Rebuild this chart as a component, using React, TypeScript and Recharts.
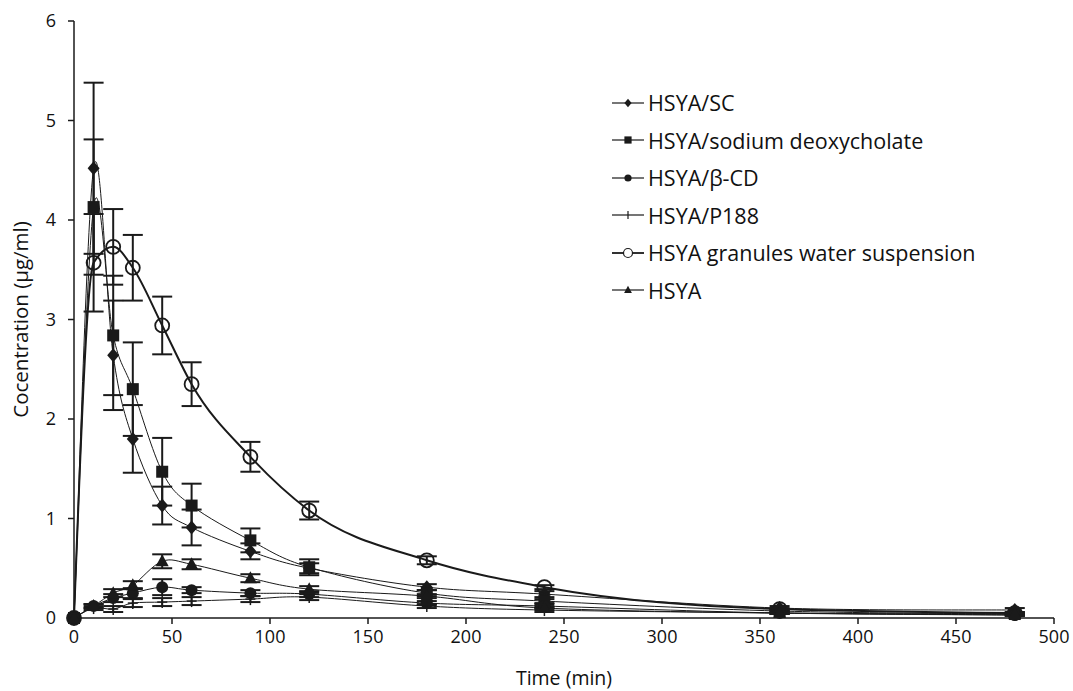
import React from 'react';
import { LineChart, Line, XAxis, YAxis, ErrorBar, Legend } from 'recharts';

const times = [0, 10, 20, 30, 45, 60, 90, 120, 180, 240, 360, 480];
const sc = [0, 4.52, 2.64, 1.8, 1.13, 0.91, 0.67, 0.5, 0.31, 0.24, 0.1, 0.08];
const scErr = [0, 0.86, 0.55, 0.34, 0.19, 0.18, 0.08, 0.05, 0.03, 0.03, 0.02, 0.02];
const sdc = [0, 4.13, 2.84, 2.3, 1.47, 1.13, 0.78, 0.51, 0.25, 0.17, 0.07, 0.04];
const sdcErr = [0, 0.68, 0.6, 0.47, 0.34, 0.22, 0.12, 0.08, 0.03, 0.02, 0.01, 0.01];
const bcd = [0, 0.12, 0.2, 0.25, 0.31, 0.28, 0.25, 0.24, 0.15, 0.12, 0.05, 0.03];
const bcdErr = [0, 0.02, 0.04, 0.05, 0.08, 0.03, 0.03, 0.03, 0.02, 0.02, 0.01, 0.01];
const p188 = [0, 0.1, 0.09, 0.15, 0.16, 0.17, 0.19, 0.21, 0.12, 0.08, 0.05, 0.03];
const p188Err = [0, 0.02, 0.03, 0.04, 0.04, 0.04, 0.03, 0.03, 0.02, 0.02, 0.01, 0.01];
const gran = [0, 3.57, 3.73, 3.52, 2.94, 2.35, 1.62, 1.08, 0.58, 0.31, 0.09, 0.05];
const granErr = [0, 0.49, 0.38, 0.33, 0.29, 0.22, 0.15, 0.09, 0.04, 0.02, 0.01, 0.01];
const hsya = [0, 0.12, 0.25, 0.33, 0.57, 0.54, 0.4, 0.29, 0.22, 0.1, 0.05, 0.04];
const hsyaErr = [0, 0.02, 0.04, 0.04, 0.07, 0.05, 0.04, 0.03, 0.02, 0.02, 0.01, 0.01];

const xTicks = [0, 50, 100, 150, 200, 250, 300, 350, 400, 450, 500];
const yTicks = [0, 1, 2, 3, 4, 5, 6];

const seriesNames = [
  'HSYA/SC',
  'HSYA/sodium deoxycholate',
  'HSYA/β-CD',
  'HSYA/P188',
  'HSYA granules water suspension',
  'HSYA',
];

const data = times.map((t, i) => ({
  t,
  sc: sc[i], scErr: scErr[i],
  sdc: sdc[i], sdcErr: sdcErr[i],
  bcd: bcd[i], bcdErr: bcdErr[i],
  p188: p188[i], p188Err: p188Err[i],
  gran: gran[i], granErr: granErr[i],
  hsya: hsya[i], hsyaErr: hsyaErr[i],
}));

// Excel-like smoothed line (Catmull-Rom style bezier)
const excelCurve = (context: any) => {
  let pts: number[][] = [];
  return {
    areaStart() {},
    areaEnd() {},
    lineStart() { pts = []; },
    point(x: number, y: number) { pts.push([+x, +y]); },
    lineEnd() {
      const n = pts.length;
      if (!n) return;
      context.moveTo(pts[0][0], pts[0][1]);
      for (let i = 0; i < n - 1; i++) {
        const p0 = pts[i - 1] || pts[i];
        const p1 = pts[i];
        const p2 = pts[i + 1];
        const p3 = pts[i + 2] || pts[i + 1];
        const c1x = p1[0] + (p2[0] - p0[0]) / 6;
        const c1y = p1[1] + (p2[1] - p0[1]) / 6;
        const c2x = p2[0] - (p3[0] - p1[0]) / 6;
        const c2y = p2[1] - (p3[1] - p1[1]) / 6;
        context.bezierCurveTo(c1x, c1y, c2x, c2y, p2[0], p2[1]);
      }
    },
  };
};

const INK = '#1a1a1a';

const markerShape = (kind: string, cx: number, cy: number, key?: any) => {
  switch (kind) {
    case 'diamond':
      return <path key={key} d={`M${cx},${cy - 7}L${cx + 6},${cy}L${cx},${cy + 7}L${cx - 6},${cy}Z`} fill={INK} />;
    case 'square':
      return <rect key={key} x={cx - 6} y={cy - 6} width={12} height={12} fill={INK} />;
    case 'circle':
      return <circle key={key} cx={cx} cy={cy} r={6} fill={INK} />;
    case 'plus':
      return (
        <g key={key}>
          <line x1={cx - 5} x2={cx + 5} y1={cy} y2={cy} stroke={INK} strokeWidth={1.5} />
          <line x1={cx} x2={cx} y1={cy - 6} y2={cy + 6} stroke={INK} strokeWidth={1.5} />
        </g>
      );
    case 'open':
      return <circle key={key} cx={cx} cy={cy} r={7} fill="none" stroke={INK} strokeWidth={1.8} />;
    case 'triangle':
      return <path key={key} d={`M${cx},${cy - 7}L${cx + 6.5},${cy + 5}L${cx - 6.5},${cy + 5}Z`} fill={INK} />;
    default:
      return null;
  }
};

const makeDot = (kind: string) => (props: any) => {
  const { cx, cy, index } = props;
  if (cx == null || cy == null) return <g key={`e${index}`} />;
  return markerShape(kind, cx, cy, `${kind}${index}`);
};

const legendKinds = ['diamond', 'square', 'circle', 'plus', 'open', 'triangle'];

const LegendContent = () => (
  <div style={{ fontFamily: 'Open Sans, sans-serif', fontSize: 21.5, color: '#111' }}>
    {seriesNames.map((name, i) => (
      <div key={name} style={{ height: 37.5, display: 'flex', alignItems: 'center' }}>
        <svg width={34} height={20} style={{ marginRight: 2 }}>
          <line x1={0} x2={32} y1={10} y2={10} stroke={INK} strokeWidth={i === 4 ? 1.8 : 1.2} />
          {legendKinds[i] === 'open'
            ? <circle cx={16} cy={10} r={4.5} fill="#fff" stroke={INK} strokeWidth={1.2} />
            : legendKinds[i] === 'plus'
              ? <line x1={16} x2={16} y1={6} y2={14} stroke={INK} strokeWidth={1.2} />
              : <g transform="translate(16,10) scale(0.6) translate(-16,-10)">{markerShape(legendKinds[i], 16, 10)}</g>}
        </svg>
        <span>{name}</span>
      </div>
    ))}
  </div>
);

const tickStyle = { fontFamily: 'Open Sans, sans-serif', fontSize: 18, fill: '#111' };

export default function App() {
  return (
    <div style={{ position: 'absolute', left: 0, top: 0, background: '#fff' }}>
      <LineChart width={1073} height={691} data={data} margin={{ top: 21, right: 19, left: 0, bottom: 0 }}>
        <XAxis
          dataKey="t"
          type="number"
          domain={[0, 500]}
          ticks={xTicks}
          height={73}
          stroke={INK}
          strokeWidth={1.5}
          tickSize={6}
          tick={tickStyle}
          tickMargin={6}
          label={{ value: 'Time (min)', position: 'insideBottom', offset: 6, style: { ...tickStyle, fontSize: 19.5 } }}
        />
        <YAxis
          type="number"
          domain={[0, 6]}
          ticks={yTicks}
          width={74}
          stroke={INK}
          strokeWidth={1.5}
          tickSize={6}
          tick={tickStyle}
          tickMargin={12}
          label={{ value: 'Cocentration (µg/ml)', angle: -90, position: 'insideLeft', offset: 21, style: { ...tickStyle, fontSize: 20.5, textAnchor: 'middle' } }}
        />
        <Legend
          layout="vertical"
          align="center"
          verticalAlign="middle"
          content={<LegendContent />}
          wrapperStyle={{ position: 'absolute', left: 612, top: 84, width: 440 }}
        />
        <Line dataKey="sc" name={seriesNames[0]} type={excelCurve as any} stroke={INK} strokeWidth={1} dot={makeDot('diamond')} isAnimationActive={false}>
          <ErrorBar dataKey="scErr" width={10} stroke={INK} strokeWidth={2} direction="y" />
        </Line>
        <Line dataKey="sdc" name={seriesNames[1]} type={excelCurve as any} stroke={INK} strokeWidth={1} dot={makeDot('square')} isAnimationActive={false}>
          <ErrorBar dataKey="sdcErr" width={10} stroke={INK} strokeWidth={2} direction="y" />
        </Line>
        <Line dataKey="bcd" name={seriesNames[2]} type={excelCurve as any} stroke={INK} strokeWidth={1} dot={makeDot('circle')} isAnimationActive={false}>
          <ErrorBar dataKey="bcdErr" width={10} stroke={INK} strokeWidth={2} direction="y" />
        </Line>
        <Line dataKey="p188" name={seriesNames[3]} type={excelCurve as any} stroke={INK} strokeWidth={1} dot={makeDot('plus')} isAnimationActive={false}>
          <ErrorBar dataKey="p188Err" width={10} stroke={INK} strokeWidth={2} direction="y" />
        </Line>
        <Line dataKey="gran" name={seriesNames[4]} type="monotone" stroke={INK} strokeWidth={2} dot={makeDot('open')} isAnimationActive={false}>
          <ErrorBar dataKey="granErr" width={10} stroke={INK} strokeWidth={2} direction="y" />
        </Line>
        <Line dataKey="hsya" name={seriesNames[5]} type={excelCurve as any} stroke={INK} strokeWidth={1} dot={makeDot('triangle')} isAnimationActive={false}>
          <ErrorBar dataKey="hsyaErr" width={10} stroke={INK} strokeWidth={2} direction="y" />
        </Line>
      </LineChart>
    </div>
  );
}
